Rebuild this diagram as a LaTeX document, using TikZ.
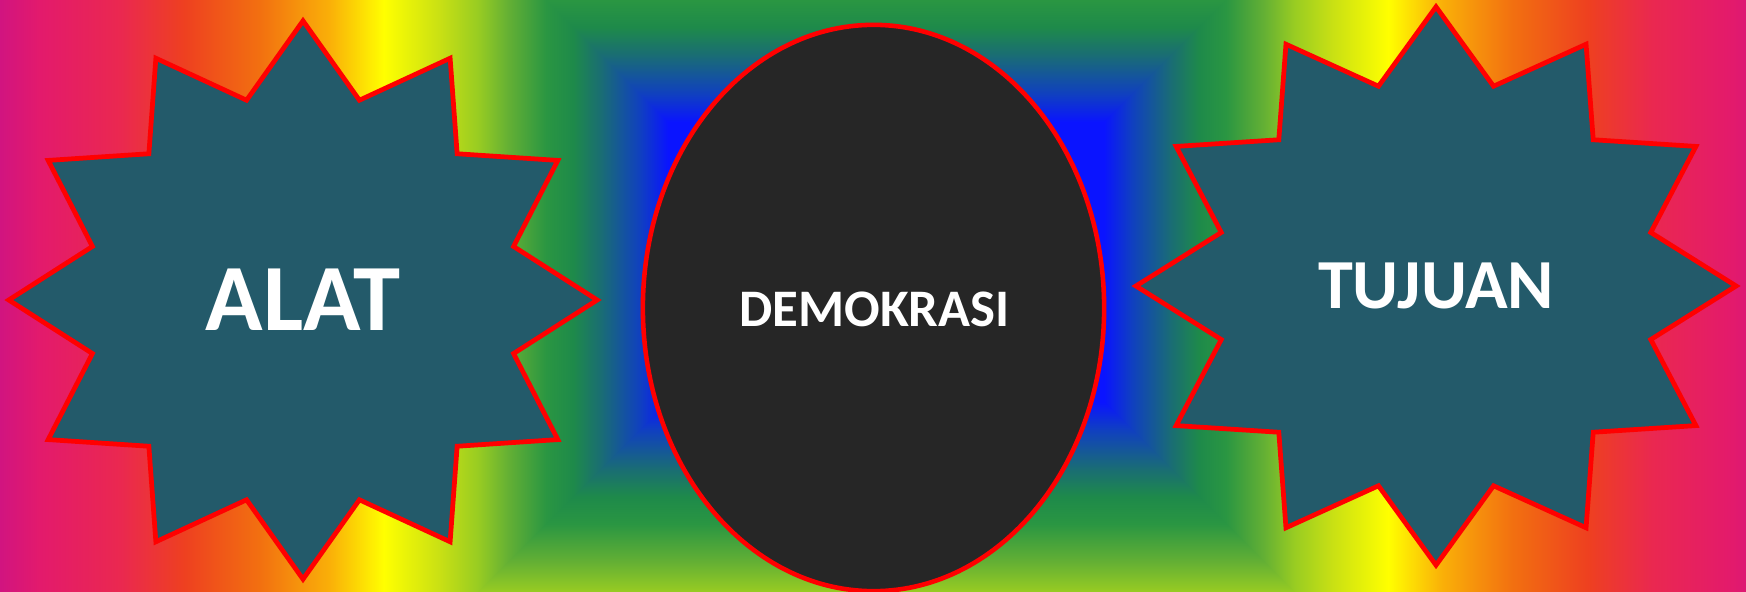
\documentclass[tikz,border=0pt]{standalone}
\usepackage{fontspec}
\setsansfont{Carlito}
\usetikzlibrary{shapes.geometric}
\definecolor{starfill}{HTML}{235A6A}
\definecolor{ovalfill}{HTML}{262626}
\definecolor{rim}{HTML}{FF0000}
\definecolor{bgblue}{HTML}{0A14FF}
\definecolor{bgcobalt}{HTML}{1040C0}
\definecolor{bgteal}{HTML}{1A6E72}
\definecolor{bgjade}{HTML}{1E8A4A}
\definecolor{bggreen}{HTML}{2A9642}
\definecolor{bggrass}{HTML}{64B034}
\definecolor{bglime}{HTML}{98CC22}
\definecolor{bgchart}{HTML}{C8E014}
\definecolor{bgyellow}{HTML}{FFFF00}
\definecolor{bggold}{HTML}{FAB008}
\definecolor{bgorange}{HTML}{F27010}
\definecolor{bgred}{HTML}{EE4020}
\definecolor{bgrose}{HTML}{EA2850}
\definecolor{bgpink}{HTML}{E31A6C}
\definecolor{bgmagenta}{HTML}{D11480}
% distance from the centre band, 25bp..75bp of the shading
\pgfdeclarehorizontalshading{rainbowbox}{100bp}{color(0bp)=(bgblue);
 color(33.66bp)=(bgblue); color(35.40bp)=(bgcobalt); color(37.87bp)=(bgteal);
 color(39.54bp)=(bgjade); color(41.21bp)=(bggreen); color(43.56bp)=(bggrass);
 color(45.42bp)=(bglime); color(47.77bp)=(bgchart); color(51.24bp)=(bgyellow);
 color(54.58bp)=(bggold); color(58.91bp)=(bgorange); color(63.61bp)=(bgred);
 color(67.57bp)=(bgrose); color(72.52bp)=(bgpink); color(75bp)=(bgmagenta);
 color(100bp)=(bgmagenta)}

\begin{document}
\begin{tikzpicture}[
 x=0.01cm,y=-0.01cm,
 starbox/.style={star,star points=12,star point ratio=1.35,minimum size=5.58cm,
 inner sep=0pt,draw=rim,line width=1.35pt,fill=starfill,transform shape},
 ovalbox/.style={ellipse,minimum width=4.61cm,minimum height=5.66cm,
 inner sep=0pt,draw=rim,line width=1.3pt,fill=ovalfill},
 word/.style={text=white,inner sep=0pt}]
\useasboundingbox (0,0) rectangle (1746,591);
% background
\shade[shading=rainbowbox,shading angle=180] (0,0) rectangle (808,591);
\shade[shading=rainbowbox] (964,0) rectangle (1772,591);
\fill[bgblue] (806,240) rectangle (966,284);
\begin{scope}
\clip (536,-10) -- (1236,-10) -- (964,262) -- (808,262) -- cycle;
\shade[shading=rainbowbox,shading angle=90] (0,262) rectangle (1746,-546);
\end{scope}
\begin{scope}
\clip (469,601) -- (1303,601) -- (964,262) -- (808,262) -- cycle;
\shade[shading=rainbowbox,shading angle=270] (0,262) rectangle (1746,1070);
\end{scope}
% shapes
\begin{scope}[shift={(303,300)},xscale=1.054]
\node[starbox] (alat) at (0,0) {};
\end{scope}
\begin{scope}[shift={(1436,286)},xscale=1.075]
\node[starbox] (tujuan) at (0,0) {};
\end{scope}
\node[ovalbox] (demokrasi) at (873.5,308) {};
\node[word,font=\sffamily\bfseries\fontsize{27}{27}\selectfont] (alattext) at (alat.center) {ALAT};
\node[word,font=\sffamily\bfseries\fontsize{20}{20}\selectfont] (tujuantext) at (tujuan.center) {TUJUAN};
\node[word,font=\sffamily\bfseries\fontsize{15}{15}\selectfont] (demokrasitext) at (874.5,309) {DEMOKRASI};
\end{tikzpicture}
\end{document}
